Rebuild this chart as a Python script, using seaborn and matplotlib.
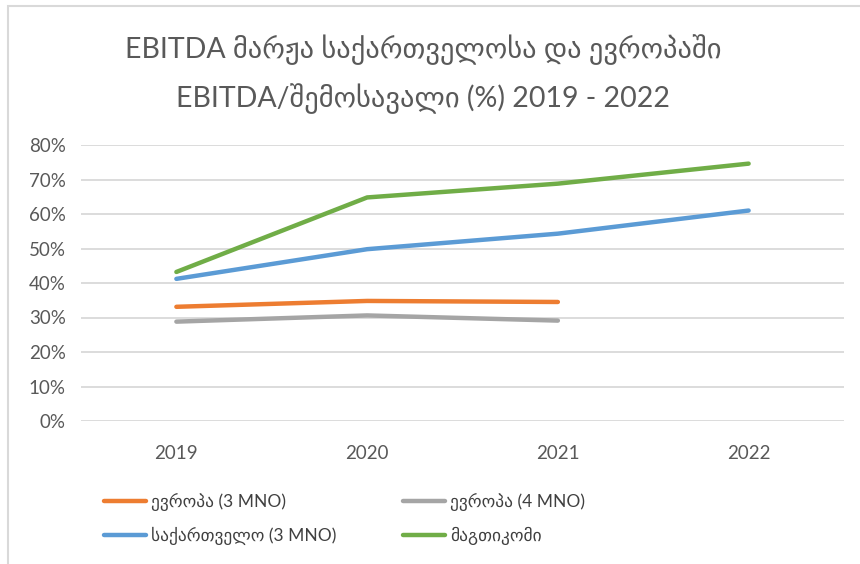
import pandas as pd
import seaborn as sns
import matplotlib.pyplot as plt
from matplotlib.patches import Rectangle
from matplotlib.ticker import PercentFormatter

# --- data ---
years = [2019, 2020, 2021, 2022]
europe_3mno = [0.331, 0.348, 0.345, None]
europe_4mno = [0.288, 0.306, 0.291, None]
georgia_3mno = [0.412, 0.498, 0.543, 0.610]
magticom = [0.432, 0.648, 0.688, 0.746]

series_names = ["ევროპა (3 MNO)", "საქართველო (3 MNO)", "ევროპა (4 MNO)", "მაგთიკომი"]
series_values = [europe_3mno, georgia_3mno, europe_4mno, magticom]
series_colors = ["#ED7D31", "#5B9BD5", "#A5A5A5", "#70AD47"]

title_lines = "EBITDA მარჟა საქართველოსა და ევროპაში\nEBITDA/შემოსავალი (%) 2019 - 2022"

rows = []
for name, vals in zip(series_names, series_values):
    for y, v in zip(years, vals):
        if v is not None:
            rows.append({"year": y, "value": v, "series": name})
df = pd.DataFrame(rows)

sns.set_style("white")
plt.rcParams["font.family"] = ["Lato", "DejaVu Sans"]

fig = plt.figure(figsize=(8.6, 5.64), dpi=100)
ax = fig.add_axes([81 / 860, 1 - 421 / 564, (844 - 81) / 860, (421 - 145) / 564])

sns.lineplot(
    data=df, x="year", y="value", hue="series", hue_order=series_names,
    palette=series_colors, linewidth=3.2, ax=ax, legend=False,
    solid_capstyle="round",
)

ax.set_xlim(2018.5, 2022.5)
ax.set_ylim(0, 0.8)
ax.set_xticks(years)
ax.set_yticks([i / 10 for i in range(9)])
ax.yaxis.set_major_formatter(PercentFormatter(1.0, decimals=0))
ax.grid(axis="y", color="#D9D9D9", linewidth=1.3)
ax.set_axisbelow(True)
for s in ax.spines.values():
    s.set_visible(False)
ax.tick_params(axis="both", length=0, labelsize=13.5, colors="#595959")
ax.tick_params(axis="x", pad=17)
ax.tick_params(axis="y", pad=11)
ax.set_xlabel("")
ax.set_ylabel("")

fig.text(0.492, 1 - 74 / 564, title_lines, ha="center", va="center",
         fontsize=20.5, color="#595959", linespacing=1.75)

handles = [plt.Line2D([], [], color=c, linewidth=3.2, solid_capstyle="round")
           for c in series_colors]
fig.legend(handles, series_names, ncol=2, loc="upper left",
           bbox_to_anchor=(88 / 860, 1 - 477 / 564), frameon=False,
           fontsize=12.5, handlelength=2.45, handletextpad=0.3,
           columnspacing=3.8, labelspacing=0.95, labelcolor="#404040")

# thin frame of the original chart box (left and top edges visible)
fig.patches.append(Rectangle((8 / 860, -0.1), 1.2, 1 - 6 / 564 + 0.1,
                             transform=fig.transFigure, fill=False,
                             edgecolor="#D9D9D9", linewidth=1.5))

fig.savefig("out.png", dpi=100)
